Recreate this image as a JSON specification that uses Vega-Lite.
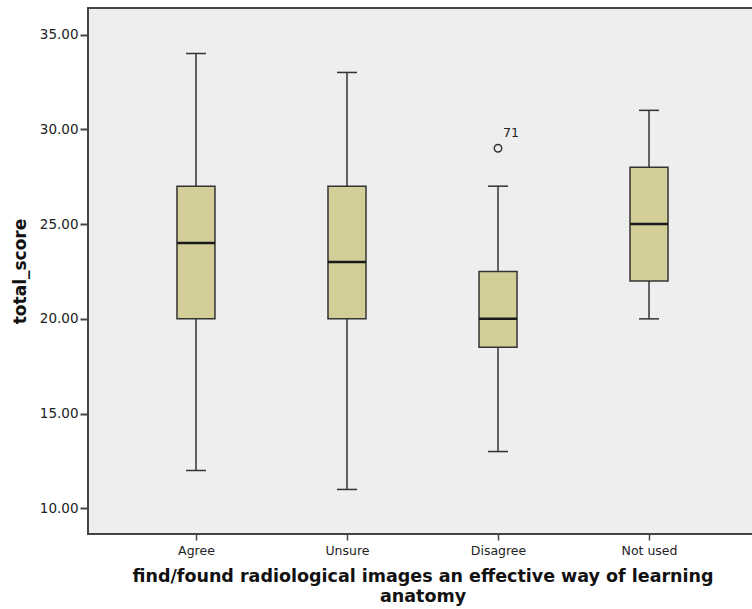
{
  "$schema": "https://vega.github.io/schema/vega-lite/v6.json",
  "autosize": "none",
  "padding": {"left": 88, "top": 8, "right": 0, "bottom": 75},
  "width": 669,
  "height": 526,
  "background": "#ffffff",
  "config": {
    "view": {"fill": "#eeeeee", "stroke": "#444444", "strokeWidth": 2},
    "font": "DejaVu Sans"
  },
  "datasets": {
    "boxes": [
      {"group": "Agree", "min": 12, "q1": 20, "median": 24, "q3": 27, "max": 34},
      {"group": "Unsure", "min": 11, "q1": 20, "median": 23, "q3": 27, "max": 33},
      {"group": "Disagree", "min": 13, "q1": 18.5, "median": 20, "q3": 22.5, "max": 27},
      {"group": "Not used", "min": 20, "q1": 22, "median": 25, "q3": 28, "max": 31}
    ],
    "outliers": [
      {"group": "Disagree", "value": 29, "case": "71"}
    ]
  },
  "encoding": {
    "x": {
      "field": "group",
      "type": "nominal",
      "sort": ["Agree", "Unsure", "Disagree", "Not used"],
      "scale": {"type": "point", "padding": 0.715},
      "axis": {
        "title": ["find/found radiological images an effective way of learning", "anatomy"],
        "titleFont": "DejaVu Sans",
        "titleFontSize": 17.5,
        "titleFontWeight": "bold",
        "titleColor": "#111111",
        "titleLineHeight": 19.5,
        "titlePadding": 11,
        "labelAngle": 0,
        "labelFontSize": 12.5,
        "labelColor": "#222222",
        "labelPadding": 4,
        "domain": false,
        "tickColor": "#444444",
        "tickSize": 6,
        "tickWidth": 1.5,
        "grid": false
      }
    }
  },
  "layer": [
    {
      "data": {"name": "boxes"},
      "mark": {"type": "rule", "stroke": "#333333", "strokeWidth": 1.5},
      "encoding": {
        "y": {
          "field": "min",
          "type": "quantitative",
          "scale": {"domain": [8.65, 36.4], "nice": false, "zero": false},
          "axis": {
            "title": "total_score",
            "titleFont": "DejaVu Sans",
            "titleFontSize": 17,
            "titleFontWeight": "bold",
            "titleColor": "#111111",
            "titlePadding": 10,
            "values": [10, 15, 20, 25, 30, 35],
            "format": ".2f",
            "labelFontSize": 13.5,
            "labelColor": "#222222",
            "labelPadding": 2,
            "domain": false,
            "tickColor": "#444444",
            "tickSize": 8,
            "tickWidth": 2,
            "grid": false
          }
        },
        "y2": {"field": "max"}
      }
    },
    {
      "data": {"name": "boxes"},
      "mark": {"type": "bar", "fill": "#d3ce97", "stroke": "#333333", "strokeWidth": 1.5, "size": 38},
      "encoding": {
        "y": {"field": "q1", "type": "quantitative"},
        "y2": {"field": "q3"}
      }
    },
    {
      "data": {"name": "boxes"},
      "mark": {"type": "tick", "color": "#1a1a1a", "size": 38, "thickness": 2.5, "opacity": 1},
      "encoding": {
        "y": {"field": "median", "type": "quantitative"}
      }
    },
    {
      "data": {"name": "boxes"},
      "mark": {"type": "tick", "color": "#333333", "size": 20, "thickness": 1.5, "opacity": 1},
      "encoding": {
        "y": {"field": "min", "type": "quantitative"}
      }
    },
    {
      "data": {"name": "boxes"},
      "mark": {"type": "tick", "color": "#333333", "size": 20, "thickness": 1.5, "opacity": 1},
      "encoding": {
        "y": {"field": "max", "type": "quantitative"}
      }
    },
    {
      "data": {"name": "outliers"},
      "mark": {"type": "point", "shape": "circle", "filled": false, "stroke": "#333333", "strokeWidth": 1.5, "size": 55, "opacity": 1},
      "encoding": {
        "y": {"field": "value", "type": "quantitative"}
      }
    },
    {
      "data": {"name": "outliers"},
      "mark": {"type": "text", "align": "left", "baseline": "middle", "dx": 5, "dy": -15, "fontSize": 12.5, "color": "#222222"},
      "encoding": {
        "y": {"field": "value", "type": "quantitative"},
        "text": {"field": "case"}
      }
    }
  ]
}
